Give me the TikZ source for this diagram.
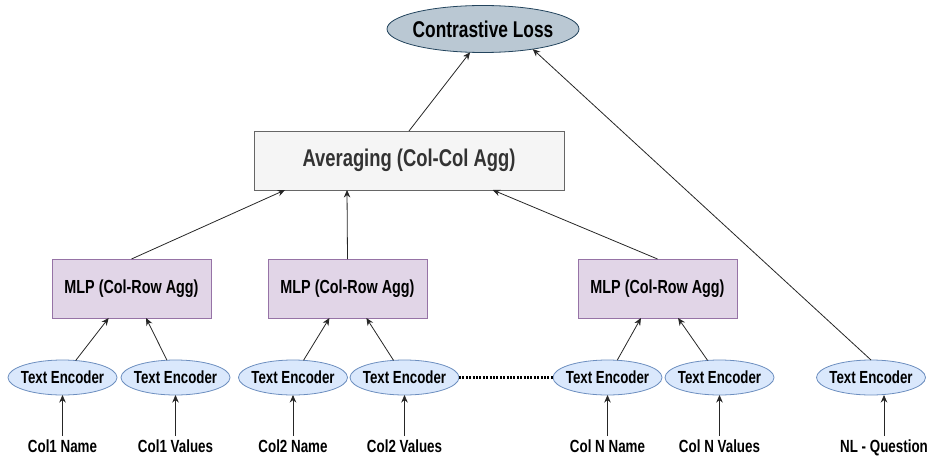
\documentclass[tikz,border=0pt]{standalone}
\usepackage{fontspec}
\setmainfont{Liberation Sans}[FakeStretch=0.76]
\usetikzlibrary{shapes.geometric,arrows.meta,calc}
\definecolor{encfill}{HTML}{DAE8FC}
\definecolor{encline}{HTML}{6C8EBF}
\definecolor{mlpfill}{HTML}{E1D5E7}
\definecolor{mlpline}{HTML}{9673A6}
\definecolor{avgfill}{HTML}{F5F5F5}
\definecolor{avgline}{HTML}{666666}
\definecolor{avgtext}{HTML}{333333}
\definecolor{lossfill}{HTML}{BAC8D3}
\definecolor{lossline}{HTML}{23445D}
\newcommand{\noWidth}[1]{\makebox[0pt]{#1}}
\begin{document}
\begin{tikzpicture}[x=1pt,y=-1pt,
    enc/.style={ellipse,draw=encline,fill=encfill,line width=0.8pt,
      minimum width=109pt,minimum height=35pt,inner sep=0pt,outer sep=0pt,
      font=\fontsize{17.5}{19}\selectfont\bfseries},
    mlp/.style={rectangle,draw=mlpline,fill=mlpfill,line width=0.8pt,
      minimum width=159pt,minimum height=59pt,outer sep=0pt,
      font=\fontsize{18.9}{21}\selectfont\bfseries},
    inp/.style={anchor=base,inner sep=3pt,
      font=\fontsize{17.6}{19}\selectfont\bfseries},
    arr/.style={-{Stealth[length=7.5pt,width=6.5pt]},line width=0.8pt,draw=black!85}]
  \useasboundingbox (0,0) rectangle (933,460);
  \node[ellipse,draw=lossline,fill=lossfill,line width=0.8pt,
    minimum width=192pt,minimum height=47pt,inner sep=0pt,outer sep=0pt,
    font=\fontsize{22.8}{25}\selectfont\bfseries] (loss) at (483,29) {\noWidth{Contrastive Loss}};
  \node[rectangle,draw=avgline,fill=avgfill,line width=0.8pt,text=avgtext,
    minimum width=310pt,minimum height=59pt,outer sep=0pt,
    font=\fontsize{24.2}{26}\selectfont\bfseries] (avg) at (409,160.5) {Averaging (Col-Col Agg)};
  \node[mlp] (mlp1) at (131.5,288.5) {MLP (Col-Row Agg)};
  \node[mlp] (mlp2) at (347.5,288.5) {MLP (Col-Row Agg)};
  \node[mlp] (mlp3) at (657.5,288.5) {MLP (Col-Row Agg)};
  \node[enc] (enc1) at (62.5,377.5) {\noWidth{Text Encoder}};
  \node[enc] (enc2) at (175.5,377.5) {\noWidth{Text Encoder}};
  \node[enc] (enc3) at (293,377.5) {\noWidth{Text Encoder}};
  \node[enc] (enc4) at (404.5,377.5) {\noWidth{Text Encoder}};
  \node[enc] (enc5) at (607.5,377.5) {\noWidth{Text Encoder}};
  \node[enc] (enc6) at (719.5,377.5) {\noWidth{Text Encoder}};
  \node[enc] (enc7) at (871,377.5) {\noWidth{Text Encoder}};
  \node[inp] (in1) at (62.5,452) {Col1 Name};
  \node[inp] (in2) at (175.5,452) {Col1 Values};
  \node[inp] (in3) at (293,452) {Col2 Name};
  \node[inp] (in4) at (404.5,452) {Col2 Values};
  \node[inp] (in5) at (607.5,452) {Col N Name};
  \node[inp] (in6) at (719.5,452) {Col N Values};
  \node[inp] (in7) at (884,452) {NL - Question};
  \begin{scope}[arr]
    \draw (in1) to (enc1);
    \draw (in2) to (enc2);
    \draw (in3) to (enc3);
    \draw (in4) to (enc4);
    \draw (in5) to (enc5);
    \draw (in6) to (enc6);
    \draw (in7.north) to (in7.north |- enc7.south);
    \draw (enc1) to (mlp1);
    \draw (enc2) to (mlp1);
    \draw (enc3) to (mlp2);
    \draw (enc4) to (mlp2);
    \draw (enc5) to (mlp3);
    \draw (enc6) to (mlp3);
    \draw (mlp1.north) to ($(avg.south west)!0.1!(avg.south east)$);
    \draw (mlp2.north) to ($(avg.south west)!0.3!(avg.south east)$);
    \draw (mlp3.north) to ($(avg.south west)!0.77!(avg.south east)$);
    \draw (avg.north) to (loss.241);
    \draw (enc7.north) to (loss.338);
  \end{scope}
  \draw[line width=2.2pt,dash pattern=on 2pt off 1.4pt] (enc4) to (enc5);
\end{tikzpicture}
\end{document}
